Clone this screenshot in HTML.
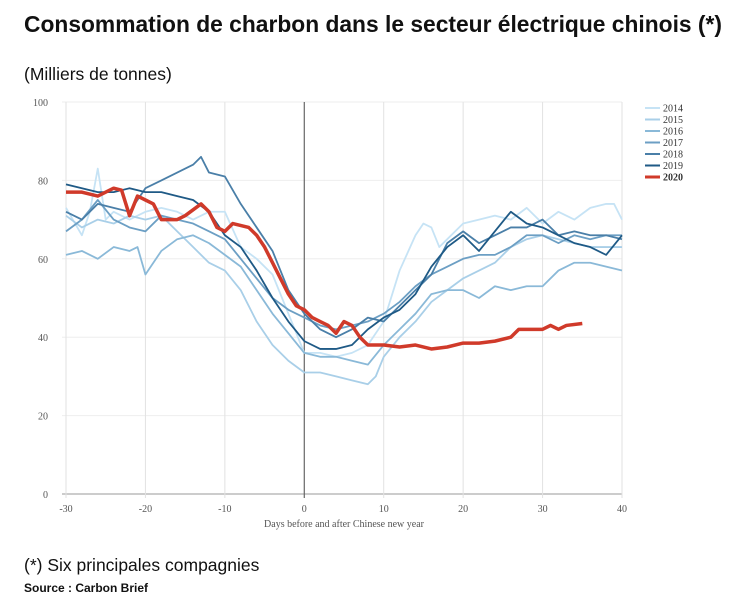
<!DOCTYPE html>
<html><head><meta charset="utf-8"><style>
body{margin:0;background:#fff;width:754px;height:603px;overflow:hidden;font-family:"Liberation Sans",sans-serif}
#title{position:absolute;left:24px;top:11px;font-size:22.8px;font-weight:bold;color:#111;white-space:nowrap}
#sub{position:absolute;left:24px;top:64px;font-size:17.5px;color:#111}
#note{position:absolute;left:24px;top:555px;font-size:17.5px;color:#111}
#src{position:absolute;left:24px;top:581px;font-size:12px;font-weight:bold;color:#111}
svg{position:absolute;left:0;top:0}
</style></head><body>
<div id="title">Consommation de charbon dans le secteur électrique chinois (*)</div>
<div id="sub">(Milliers de tonnes)</div>
<div id="note">(*) Six principales compagnies</div>
<div id="src">Source : Carbon Brief</div>
<svg id="chart" width="754" height="603"></svg>
<script>
const years=["2014","2015","2016","2017","2018","2019","2020"];
const colors=["#c6e3f5","#a9cfe8","#8ab9d8","#6c9fc4","#4a7fa8","#1f5a86","#d03a2a"];
const xTicks=[-30,-20,-10,0,10,20,30,40];
const yTicks=[0,20,40,60,80,100];
const d2014x=[-30,-28,-27,-26,-25,-24,-22,-20,-18,-16,-14,-12,-10,-8,-6,-4,-2,0,2,4,6,8,10,12,14,15,16,17,18,20,22,24,26,28,30,32,34,36,38,39,40];
const d2014y=[73,66,72,83,70,72,70,72,73,72,70,72,72,63,60,56,46,36,36,35,36,38,44,57,66,69,68,63,65,69,70,71,70,73,69,72,70,73,74,74,70];
const d2015x=[-30,-28,-26,-24,-22,-20,-18,-16,-14,-12,-10,-8,-6,-4,-2,0,2,4,6,8,9,10,12,14,16,18,20,22,24,26,28,30,32,34,36,38,40];
const d2015y=[71,68,70,69,71,70,71,67,63,59,57,52,44,38,34,31,31,30,29,28,30,35,40,44,49,52,55,57,59,63,65,66,65,64,63,63,63];
const d2016x=[-30,-28,-26,-24,-22,-21,-20,-18,-16,-14,-12,-10,-8,-6,-4,-2,0,2,4,6,8,10,12,14,16,18,20,22,24,26,28,30,32,34,36,38,40];
const d2016y=[61,62,60,63,62,63,56,62,65,66,64,61,58,52,46,41,36,35,35,34,33,38,42,46,51,52,52,50,53,52,53,53,57,59,59,58,57];
const d2017x=[-30,-28,-26,-24,-22,-20,-18,-16,-14,-12,-10,-8,-6,-4,-2,0,2,4,6,8,10,12,14,16,18,20,22,24,26,28,30,32,34,36,38,40];
const d2017y=[67,70,75,70,68,67,71,70,69,67,65,60,55,50,47,45,43,42,43,44,46,49,53,56,58,60,61,61,63,66,66,64,66,65,66,66];
const d2018x=[-30,-28,-26,-24,-22,-20,-18,-16,-14,-13,-12,-10,-8,-6,-4,-2,0,2,4,6,8,10,12,14,16,18,20,22,24,26,28,30,32,34,36,38,40];
const d2018y=[72,70,74,73,72,78,80,82,84,86,82,81,74,68,62,52,46,42,40,42,45,44,48,52,56,64,67,64,66,68,68,70,66,67,66,66,65];
const d2019x=[-30,-28,-26,-24,-22,-20,-18,-16,-14,-12,-10,-8,-6,-4,-2,0,2,4,6,8,10,12,14,16,18,20,22,24,26,28,30,32,34,36,38,40];
const d2019y=[79,78,77,77,78,77,77,76,75,72,66,63,57,50,44,39,37,37,38,42,45,47,51,58,63,66,62,67,72,69,68,66,64,63,61,66];
const d2020x=[-30,-28,-26,-24,-23,-22,-21,-20,-19,-18,-16,-15,-13,-12,-11,-10,-9,-7,-6,-5,-4,-3,-2,-1,0,1,2,3,4,5,6,7,8,9,10,12,14,16,18,20,22,24,26,27,30,31,32,33,35];
const d2020y=[77,77,76,78,77.5,71,76,75,74,70,70,71,74,72,68,67,69,68,66,63,59,55,51,48,47,45,44,43,41,44,43,40,38,38,38,37.5,38,37,37.5,38.5,38.5,39,40,42,42,43,42,43,43.5];
const seriesX=[d2014x,d2015x,d2016x,d2017x,d2018x,d2019x,d2020x];
const seriesY=[d2014y,d2015y,d2016y,d2017y,d2018y,d2019y,d2020y];
const svg=document.getElementById('chart');
const NS="http://www.w3.org/2000/svg";
const X=v=>66+(v+30)*(622-66)/70;
const Y=v=>494-v*3.92;
function mk(t,a){const e=document.createElementNS(NS,t);for(const k in a)e.setAttribute(k,a[k]);svg.appendChild(e);return e;}
yTicks.forEach(t=>{
  const g=mk('line',{x1:62,x2:622,y1:Y(t),y2:Y(t),stroke:t===0?'#999':'#eee','stroke-width':1});
  
  
  const l=mk('text',{x:48,y:Y(t)+4,'text-anchor':'end','font-size':10,'font-family':'Liberation Serif,serif',fill:'#555'});
  l.textContent=t;
  
  
});
xTicks.forEach(t=>{
  const g=mk('line',{x1:X(t),x2:X(t),y1:102,y2:498,stroke:t===0?'#666':'#e2e2e2','stroke-width':t===0?1.2:1});
  
  
  const l=mk('text',{x:X(t),y:512,'text-anchor':'middle','font-size':10,'font-family':'Liberation Serif,serif',fill:'#555'});
  l.textContent=t;
  
  
});
const xt=mk('text',{x:344,y:527,'text-anchor':'middle','font-size':10,'font-family':'Liberation Serif,serif',fill:'#555'});
xt.textContent='Days before and after Chinese new year';


seriesX.forEach((xs,i)=>{
  const pts=xs.map((x,j)=>X(x)+','+Y(seriesY[i][j])).join(' ');
  const p=mk('polyline',{points:pts,fill:'none',stroke:colors[i],'stroke-width':i===6?3.5:1.8,'stroke-linejoin':'round'});
  
  
  const ly=108+i*11.5;
  const s=mk('line',{x1:645,x2:660,y1:ly,y2:ly,stroke:colors[i],'stroke-width':i===6?3:2});
  
  
  const t=mk('text',{x:663,y:ly+3.5,'font-size':10,'font-family':'Liberation Serif,serif',fill:'#333','font-weight':i===6?'bold':'normal'});
  t.textContent=years[i];
  
  
});
</script>
</body></html>
